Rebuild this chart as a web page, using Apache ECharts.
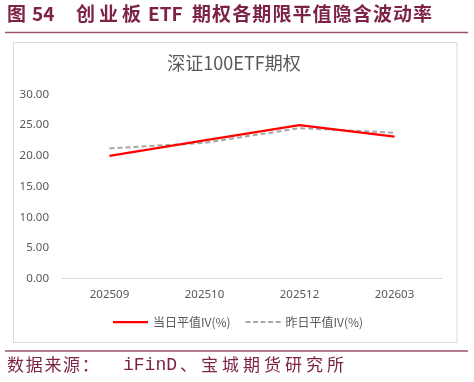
<!DOCTYPE html>
<html>
<head>
<meta charset="utf-8">
<script src="https://cdn.jsdelivr.net/npm/echarts@6/dist/echarts.min.js"></script>
<style>
html,body{margin:0;padding:0;background:#fff;}
#c{width:474px;height:382px;}
</style>
</head>
<body>
<div id="c"></div>
<script>
const categories = ['202509', '202510', '202512', '202603'];
const todayIV = [20.0, 22.5, 25.0, 23.1];
const yesterdayIV = [21.2, 22.1, 24.5, 23.75];
const seriesNames = ['当日平值IV(%)', '昨日平值IV(%)'];
const chartTitle = '深证100ETF期权';
const headerParts = [
  {text: '图', x0: 7, pitch: 20},
  {text: '54', x0: 32, pitch: 0},
  {text: '创业板', x0: 76, pitch: 23},
  {text: 'ETF', x0: 148, pitch: 0},
  {text: '期权各期限平值隐含波动率', x0: 192, pitch: 20.1}
];
const sourceParts = [
  {text: '数据来源：', x0: 7, pitch: 18.7, mono: false},
  {text: 'iFinD', x0: 123, pitch: 0, mono: true},
  {text: '、宝城期货研究所', x0: 180, pitch: 21, mono: false}
];

const maroon = '#7E2348';
const cjk = '"Noto Sans CJK SC", "Noto Sans", sans-serif';

const graphics = [];
// header
headerParts.forEach(p => {
  const chars = p.pitch ? Array.from(p.text) : [p.text];
  chars.forEach((ch, i) => {
    graphics.push({type:'text', x: p.x0 + i * p.pitch, y: 4, style:{text: ch, fill: maroon, font: 'bold 19px ' + cjk}});
  });
});
graphics.push({type:'line', shape:{x1:5, y1:32.5, x2:468, y2:32.5}, style:{stroke:'#9A5070', lineWidth:1.5}});
// chart border
graphics.push({type:'rect', shape:{x:13.5, y:42.5, width:443.5, height:300}, style:{fill:'none', stroke:'#D9D9D9', lineWidth:1}, z:-1});
// footer
graphics.push({type:'line', shape:{x1:5, y1:351, x2:468, y2:351}, style:{stroke:'#9A5070', lineWidth:1.5}});
sourceParts.forEach(p => {
  const chars = p.pitch ? Array.from(p.text) : [p.text];
  chars.forEach((ch, i) => {
    graphics.push({type:'text', x: p.x0 + i * p.pitch, y: 356,
      style:{text: ch, fill: maroon, font: p.mono ? '18px "Liberation Mono", "DejaVu Sans Mono", monospace' : '17px ' + cjk}});
  });
});

const chart = echarts.init(document.getElementById('c'), null, {renderer:'canvas'});
chart.setOption({
  animation: false,
  backgroundColor: '#fff',
  title: {
    text: chartTitle, left: 234, top: 54, textAlign: 'center', padding: 0,
    textStyle: {fontSize: 18, fontWeight: 'normal', color: '#595959', fontFamily: cjk}
  },
  legend: {
    left: 113, top: 316, itemWidth: 35, itemHeight: 3, itemGap: 15, padding: 0,
    textStyle: {fontSize: 12, color: '#595959', fontFamily: cjk},
    data: [
      {name: seriesNames[0], icon: 'path://M0,0h35v2.25h-35z'},
      {name: seriesNames[1], icon: 'path://M0,0h5v2h-5zM7.5,0h5v2h-5zM15,0h5v2h-5zM22.5,0h5v2h-5zM30,0h5v2h-5z'}
    ]
  },
  grid: {left: 62, right: 32, top: 94.3, bottom: 103.3, containLabel: false},
  xAxis: {
    type: 'category', data: categories, boundaryGap: true,
    axisLine: {lineStyle: {color: '#D9D9D9', width: 1}},
    axisTick: {show: false},
    axisLabel: {color: '#595959', fontSize: 11.5, margin: 10, fontFamily: '"Noto Sans", sans-serif'}
  },
  yAxis: {
    type: 'value', min: 0, max: 30, interval: 5,
    axisLine: {show: false}, axisTick: {show: false},
    splitLine: {show: false},
    axisLabel: {color: '#595959', fontSize: 11.5, margin: 13, fontFamily: '"Noto Sans", sans-serif',
      formatter: v => v.toFixed(2)}
  },
  series: [
    {name: seriesNames[0], type: 'line', data: todayIV, symbol: 'none',
      lineStyle: {color: '#FF0000', width: 2.25}, itemStyle: {color: '#FF0000'}, z: 3},
    {name: seriesNames[1], type: 'line', data: yesterdayIV, symbol: 'none',
      lineStyle: {color: '#A6A6A6', width: 2, type: [5, 3]}, itemStyle: {color: '#A6A6A6'}, z: 2}
  ],
  graphic: graphics
});
</script>
</body>
</html>
